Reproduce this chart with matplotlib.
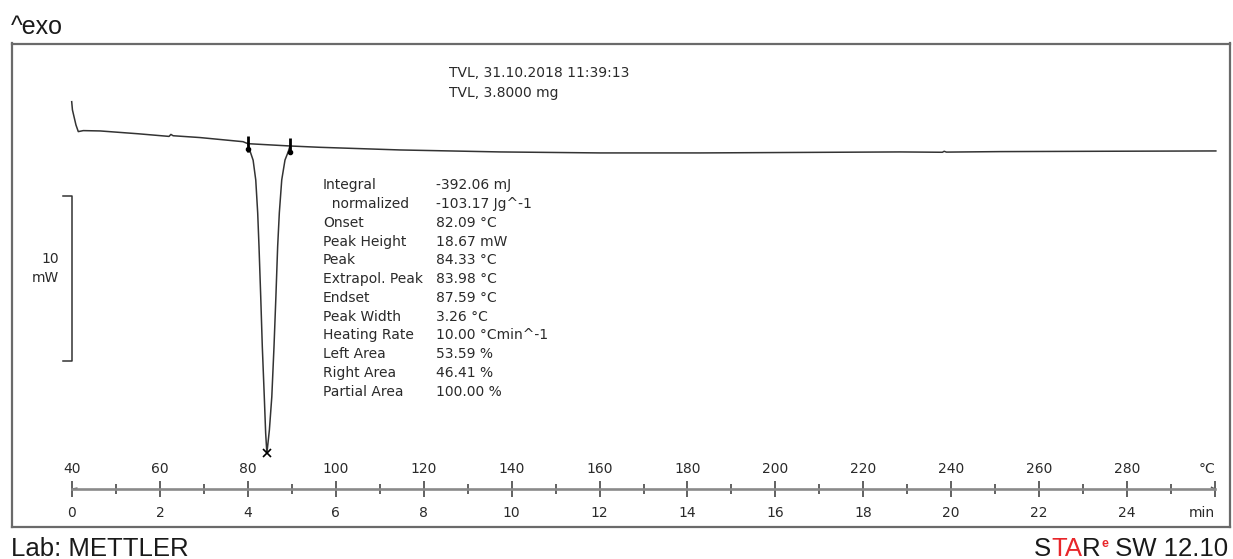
import matplotlib
matplotlib.use("Agg")
import matplotlib.pyplot as plt
import matplotlib.ticker as ticker

W, H = 1233, 559

# DSC trace: temperature (°C) vs heat flow (mW)
temp = [39.93, 40.10, 40.90, 41.43, 42.57, 46.4, 55.0, 62.07, 62.5, 63.0,
        69.1, 78.9, 80.0, 80.5, 81.2, 81.8, 82.24, 82.54, 82.93, 83.29,
        83.74, 84.05, None, 84.9, 85.45, 85.95, 86.38, 86.78, 87.16, 87.71,
        88.45, 89.20, 89.59, 96.4, 114.6, 137.4, 160.1, 182.9, 205.6, 228.4,
        238.0, 238.4, 238.9, 251.1, 273.8, 300.2]
heat_flow = [2.74, 2.24, 1.33, 0.93, 0.99, 0.97, 0.80, 0.64, 0.76, 0.68,
             0.57, 0.32, 0.20, -0.25, -0.80, -2.00, -3.99, -6.03, -9.06, -12.08,
             -15.11, -17.30, None, -17.12, -15.11, -12.08, -9.06, -6.03, -3.99, -1.99,
             -0.79, -0.28, 0.06, -0.02, -0.18, -0.30, -0.36, -0.36, -0.33, -0.30,
             -0.32, -0.26, -0.31, -0.28, -0.26, -0.24]

# integration limits and evaluation results
limits_temp = [80.0, 89.59]
limits_hf = [0.20, 0.06]
PEAK_TEMP = 84.33
PEAK_HEIGHT = 18.67
HEATING_RATE = 10.0

labels = ["Integral", "  normalized", "Onset", "Peak Height", "Peak",
          "Extrapol. Peak", "Endset", "Peak Width", "Heating Rate",
          "Left Area", "Right Area", "Partial Area"]
values = ["-392.06 mJ", "-103.17 Jg^-1", "82.09 °C", "18.67 mW", "84.33 °C",
          "83.98 °C", "87.59 °C", "3.26 °C", "10.00 °Cmin^-1",
          "53.59 %", "46.41 %", "100.00 %"]

temp_ticks = list(range(40, 301, 20))
temp_labels = [str(t) for t in temp_ticks[:-1]] + ["°C"]
time_ticks = list(range(0, 27, 2))
time_labels = [str(t) for t in time_ticks[:-1]] + ["min"]

# peak minimum sits PEAK_HEIGHT below the integration baseline
frac = (PEAK_TEMP - limits_temp[0]) / (limits_temp[1] - limits_temp[0])
base_at_peak = limits_hf[0] + frac * (limits_hf[1] - limits_hf[0])
peak_hf = base_at_peak - PEAK_HEIGHT
i = temp.index(None)
temp[i] = PEAK_TEMP
heat_flow[i] = peak_hf

SMALL = "DejaVu Sans"
BIG = "Liberation Sans"
INK = "#2a2a2a"

fig = plt.figure(figsize=(W / 100, H / 100), dpi=100)


def fx(x):
    return x / W


def fy(y):
    return 1 - y / H


# main plotting frame
ax = fig.add_axes([fx(12), fy(527), (1230 - 12) / W, (527 - 43.5) / H])
ax.set_xlim(26.35, 303.42)
ax.set_ylim(-22.99, 6.26)
ax.set_xticks([])
ax.set_yticks([])
for s in ax.spines.values():
    s.set_color("#6a6a6a")
    s.set_linewidth(1.6)

ax.plot(temp, heat_flow, color="#333333", lw=1.1, solid_joinstyle="round")
ax.plot(limits_temp, limits_hf, color="#333333", lw=1.1)
ax.plot(limits_temp, limits_hf, ls="none", marker="|", ms=11, mew=2.0,
        color="black")
ax.plot(limits_temp, [h - 0.35 for h in limits_hf], ls="none", marker="o",
        ms=3, color="black")
ax.plot([PEAK_TEMP], [peak_hf], ls="none", marker="x", ms=6, mew=1.2,
        color="black")

# 10 mW scale bar
bar_x, bar_top = 39.93, -2.95
ax.plot([37.88, bar_x, bar_x, 37.88], [bar_top, bar_top, bar_top - 10, bar_top - 10],
        color="#333333", lw=1.1)
ax.text(37.15, bar_top - 5 + 1.2, "10", ha="right", va="center",
        fontsize=10, family=SMALL, color=INK)
ax.text(37.15, bar_top - 5, "mW", ha="right", va="center",
        fontsize=10, family=SMALL, color=INK)

# evaluation table
row0, step = 185.5, 18.73
for k, (lab, val) in enumerate(zip(labels, values)):
    y = fy(row0 + k * step)
    fig.text(fx(323), y, lab, ha="left", va="center", fontsize=10,
             family=SMALL, color=INK)
    fig.text(fx(436), y, val, ha="left", va="center", fontsize=10,
             family=SMALL, color=INK)

fig.text(fx(449), fy(73), "TVL, 31.10.2018 11:39:13", va="center",
         fontsize=10, family=SMALL, color=INK)
fig.text(fx(449), fy(93), "TVL, 3.8000 mg", va="center",
         fontsize=10, family=SMALL, color=INK)

# temperature / time axis
tax = fig.add_axes([fx(72), fy(489), 1143 / W, 0.0005])
tax.set_xlim(40, 300)
tax.patch.set_visible(False)
for side in ("top", "left", "right"):
    tax.spines[side].set_visible(False)
tax.spines["bottom"].set_color("#8a8a8a")
tax.spines["bottom"].set_linewidth(1.9)
tax.set_yticks([])
tax.set_xticks(temp_ticks, labels=temp_labels)
tax.xaxis.set_minor_locator(ticker.MultipleLocator(10))
tax.tick_params(axis="x", which="both", direction="inout", bottom=True,
                top=False, labelbottom=False, labeltop=True, color="#555555",
                width=1.3)
tax.tick_params(axis="x", which="major", length=12, pad=3, labelsize=10,
                labelcolor=INK)
tax.tick_params(axis="x", which="minor", length=6.5)
for t in tax.get_xticklabels():
    t.set_family(SMALL)
tax.get_xticklabels()[-1].set_ha("right")

sec = tax.secondary_xaxis("bottom", functions=(
    lambda T: (T - 40) / HEATING_RATE, lambda t: t * HEATING_RATE + 40))
sec.set_xticks(time_ticks, labels=time_labels)
sec.tick_params(axis="x", length=0, pad=12, labelsize=10, labelcolor=INK)
sec.spines["bottom"].set_visible(False)
for t in sec.get_xticklabels():
    t.set_family(SMALL)
sec.get_xticklabels()[-1].set_ha("right")

# axis end marks
tax.plot([40, 41.1], [0, 3], color="#555555", lw=1.0, clip_on=False,
         transform=tax.get_xaxis_transform())
tax.plot([299.2, 300], [6, 0], color="#555555", lw=1.0, clip_on=False,
         transform=tax.get_xaxis_transform())

fig.text(fx(11), fy(34), "^exo", va="baseline", fontsize=18, family=BIG,
         color="#1a1a1a")
fig.text(fx(11), fy(556), "Lab: METTLER", va="baseline", fontsize=18.5,
         family=BIG, color="#1a1a1a")

# STARe SW 12.10 footer, laid out right to left
r = fig.canvas.get_renderer()
pieces = [("S", "#1a1a1a", 18.5, 556), ("TA", "#e8262a", 18.5, 556),
          ("R", "#1a1a1a", 18.5, 556), ("e", "#e8262a", 9, 547),
          (" SW 12.10", "#1a1a1a", 18.5, 556)]
x = 1228
for s, c, size, base in reversed(pieces):
    t = fig.text(fx(x), fy(base), s, ha="right", va="baseline", fontsize=size,
                 family=BIG, color=c, fontweight="bold" if s == "e" else "normal")
    x = t.get_window_extent(r).x0

fig.savefig("out.png", dpi=100)
